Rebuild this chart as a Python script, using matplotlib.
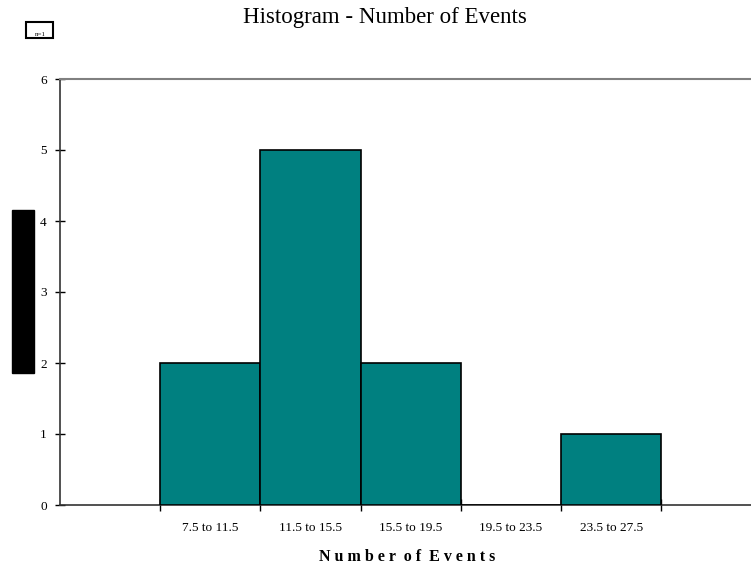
import matplotlib.pyplot as plt
from matplotlib.patches import Rectangle

bins = ["7.5 to 11.5", "11.5 to 15.5", "15.5 to 19.5", "19.5 to 23.5", "23.5 to 27.5"]
counts = [2, 5, 2, 0, 1]
yticks = [0, 1, 2, 3, 4, 5, 6]

W, H = 751, 567
plt.rcParams['font.family'] = ['Liberation Serif', 'DejaVu Serif']

fig = plt.figure(figsize=(W / 100, H / 100), dpi=100)
ax = fig.add_axes([60 / W, (H - 505) / H, 691 / W, 426 / H])

pos = list(range(1, len(bins) + 1))
ax.bar(pos, counts, width=1.0, color="#008080", edgecolor="black", linewidth=1.2, zorder=3)

ax.set_xlim(-0.5, 6.396)
ax.set_ylim(0, 6)
ax.set_yticks(yticks)
ax.tick_params(axis='y', direction='inout', length=7, width=1, labelsize=9.5, pad=6)

# bin edges get tick marks, bin centres get the labels
edges = [p - 0.5 for p in pos] + [pos[-1] + 0.5]
ax.set_xticks(edges)
ax.set_xticklabels([])
ax.set_xticks(pos, minor=True)
ax.set_xticklabels(bins, minor=True, fontsize=9.5)
ax.tick_params(axis='x', which='major', direction='inout', length=8, width=1)
ax.tick_params(axis='x', which='minor', length=0, pad=12)

ax.spines['right'].set_visible(False)
ax.spines['top'].set_color('#808080')
ax.spines['top'].set_linewidth(1.5)
ax.spines['left'].set_color('#333333')
ax.spines['bottom'].set_color('#333333')
ax.spines['left'].set_linewidth(1.2)
ax.spines['bottom'].set_linewidth(1.2)

fig.text(407 / W, 1 - 557 / H, "N u m b e r  o f  E v e n t s", ha='center', va='center',
         fontsize=11.5, fontweight='bold')

fig.text(385 / W, 1 - 18 / H, "Histogram - Number of Events", ha='center', va='center', fontsize=16.5)

# rotated y label block and small legend box
fig.patches.append(Rectangle((12 / W, (H - 373) / H), 22 / W, 163 / H,
                             transform=fig.transFigure, color='black', zorder=5))
fig.patches.append(Rectangle((26 / W, (H - 38) / H), 27 / W, 16 / H,
                             transform=fig.transFigure, facecolor='white',
                             edgecolor='black', linewidth=1.5, zorder=5))
fig.text(40 / W, 1 - 35 / H, "n=1", ha='center', va='center', fontsize=5, zorder=6)

fig.savefig("out.png", dpi=100)
